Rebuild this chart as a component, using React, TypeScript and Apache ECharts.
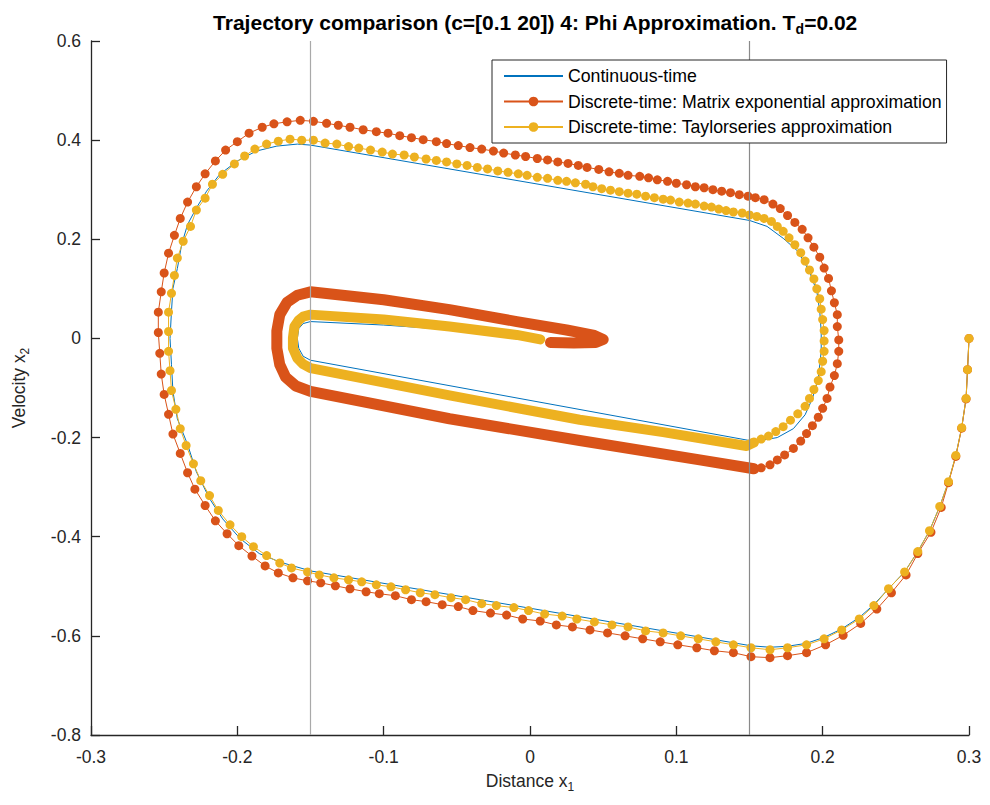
import React, { useEffect, useRef } from 'react';
import * as echarts from 'echarts';

// ---------- data ----------
const switchLines: number[] = [-0.15, 0.15];

const continuousTime: [number, number][] = [
  [0.300, 0.000], [0.299, -0.063], [0.298, -0.121], [0.295, -0.180], [0.291, -0.236], [0.286, -0.289],
  [0.280, -0.339], [0.273, -0.388], [0.265, -0.430], [0.256, -0.471], [0.245, -0.505], [0.235, -0.537],
  [0.225, -0.563], [0.213, -0.586], [0.201, -0.603], [0.189, -0.615], [0.176, -0.621], [0.164, -0.623],
  [0.151, -0.620], [-0.150, -0.469], [-0.171, -0.451], [-0.185, -0.434], [-0.198, -0.404], [-0.210, -0.364],
  [-0.219, -0.323], [-0.228, -0.269], [-0.234, -0.214], [-0.241, -0.162], [-0.244, -0.107], [-0.245, -0.053],
  [-0.246, 0.000], [-0.245, 0.055], [-0.244, 0.101], [-0.241, 0.141], [-0.238, 0.190], [-0.234, 0.230],
  [-0.228, 0.263], [-0.221, 0.297], [-0.212, 0.331], [-0.200, 0.358], [-0.187, 0.378], [-0.173, 0.388],
  [-0.159, 0.392], [-0.150, 0.390], [0.150, 0.238], [0.162, 0.226], [0.173, 0.202], [0.183, 0.176],
  [0.191, 0.135], [0.196, 0.095], [0.198, 0.055], [0.199, 0.014], [0.199, -0.026], [0.197, -0.081],
  [0.193, -0.121], [0.188, -0.154], [0.180, -0.182], [0.169, -0.200], [0.157, -0.206], [0.150, -0.206],
  [-0.150, -0.044], [-0.155, -0.036], [-0.158, -0.020], [-0.159, 0.000], [-0.158, 0.020], [-0.155, 0.030],
  [-0.150, 0.034], [-0.100, 0.027], [-0.050, 0.017], [0.000, 0.004], [0.006, 0.000],
];

// Matrix exponential approximation: outer loop (separate dots)
const matrixOuter: [number, number][] = [
  [0.300, 0.000], [0.299, -0.063], [0.298, -0.122], [0.295, -0.181], [0.291, -0.238], [0.286, -0.291],
  [0.281, -0.341], [0.274, -0.391], [0.265, -0.434], [0.257, -0.477], [0.247, -0.513], [0.237, -0.546],
  [0.226, -0.575], [0.214, -0.599], [0.202, -0.618], [0.189, -0.634], [0.176, -0.640], [0.164, -0.644],
  [0.151, -0.642], [0.139, -0.634], [0.126, -0.630], [0.114, -0.624], [0.101, -0.618], [0.089, -0.612],
  [0.077, -0.606], [0.065, -0.600], [0.053, -0.594], [0.041, -0.588], [0.029, -0.582], [0.018, -0.578],
  [0.007, -0.570], [-0.005, -0.566], [-0.016, -0.558], [-0.027, -0.554], [-0.039, -0.549], [-0.049, -0.541],
  [-0.060, -0.537], [-0.071, -0.531], [-0.081, -0.527], [-0.092, -0.519], [-0.103, -0.515], [-0.112, -0.511],
  [-0.123, -0.505], [-0.133, -0.499], [-0.143, -0.493], [-0.152, -0.489], [-0.162, -0.483], [-0.172, -0.473],
  [-0.181, -0.459], [-0.190, -0.439], [-0.199, -0.418], [-0.207, -0.394], [-0.215, -0.368], [-0.222, -0.337],
  [-0.229, -0.304], [-0.234, -0.271], [-0.239, -0.232], [-0.244, -0.193], [-0.247, -0.153], [-0.250, -0.113],
  [-0.252, -0.072], [-0.253, -0.030], [-0.254, 0.012], [-0.254, 0.053], [-0.252, 0.094], [-0.250, 0.132],
  [-0.247, 0.172], [-0.243, 0.208], [-0.239, 0.242], [-0.234, 0.275], [-0.228, 0.306], [-0.222, 0.332],
  [-0.215, 0.358], [-0.208, 0.380], [-0.200, 0.397], [-0.192, 0.414], [-0.183, 0.426], [-0.175, 0.433],
  [-0.166, 0.437], [-0.157, 0.440], [-0.148, 0.438], [-0.139, 0.434], [-0.131, 0.430], [-0.123, 0.426],
  [-0.114, 0.421], [-0.105, 0.417], [-0.097, 0.414], [-0.089, 0.409], [-0.081, 0.405], [-0.073, 0.401],
  [-0.064, 0.397], [-0.057, 0.393], [-0.049, 0.389], [-0.041, 0.385], [-0.033, 0.382], [-0.025, 0.378],
  [-0.018, 0.374], [-0.010, 0.370], [-0.003, 0.367], [0.005, 0.363], [0.012, 0.360], [0.019, 0.356],
  [0.026, 0.353], [0.033, 0.349], [0.039, 0.345], [0.047, 0.341], [0.054, 0.336], [0.061, 0.333],
  [0.067, 0.329], [0.075, 0.327], [0.081, 0.324], [0.087, 0.320], [0.094, 0.317], [0.100, 0.313],
  [0.107, 0.310], [0.113, 0.306], [0.119, 0.304], [0.125, 0.300], [0.131, 0.297], [0.137, 0.294],
  [0.143, 0.290], [0.149, 0.287], [0.154, 0.284], [0.160, 0.280], [0.166, 0.271], [0.171, 0.262],
  [0.176, 0.248], [0.181, 0.234], [0.186, 0.220], [0.190, 0.203], [0.194, 0.184], [0.198, 0.164],
  [0.201, 0.142], [0.204, 0.121], [0.206, 0.096], [0.208, 0.072], [0.210, 0.048], [0.210, 0.024],
  [0.211, -0.003], [0.211, -0.026], [0.210, -0.051], [0.208, -0.075], [0.205, -0.098], [0.203, -0.121],
  [0.200, -0.141], [0.197, -0.159], [0.193, -0.176], [0.189, -0.192], [0.185, -0.207], [0.180, -0.222],
  [0.174, -0.235], [0.169, -0.245], [0.164, -0.255], [0.158, -0.261], [0.153, -0.263],
];

// Matrix exponential approximation: inner part (dots merge into a band)
const matrixInner: [number, number][] = [
  [0.153, -0.263], [0.116, -0.245], [0.034, -0.206], [-0.055, -0.162], [-0.150, -0.107], [-0.160, -0.096],
  [-0.167, -0.078], [-0.171, -0.053], [-0.173, -0.020], [-0.173, 0.015], [-0.171, 0.048], [-0.166, 0.073],
  [-0.159, 0.087], [-0.150, 0.094], [-0.100, 0.078], [-0.055, 0.058], [-0.009, 0.034], [0.025, 0.017],
  [0.044, 0.006], [0.050, -0.002], [0.045, -0.008], [0.030, -0.009], [0.014, -0.008],
];

// Taylor series approximation: outer loop (separate dots)
const taylorOuter: [number, number][] = [
  [0.300, 0.000], [0.299, -0.063], [0.298, -0.121], [0.295, -0.180], [0.291, -0.236], [0.286, -0.289],
  [0.280, -0.339], [0.273, -0.388], [0.265, -0.430], [0.256, -0.471], [0.245, -0.505], [0.235, -0.539],
  [0.225, -0.566], [0.213, -0.588], [0.201, -0.606], [0.189, -0.618], [0.176, -0.624], [0.164, -0.628],
  [0.151, -0.624], [0.139, -0.618], [0.127, -0.612], [0.115, -0.606], [0.103, -0.600], [0.091, -0.594],
  [0.079, -0.590], [0.067, -0.582], [0.056, -0.578], [0.044, -0.572], [0.032, -0.566], [0.022, -0.560],
  [0.010, -0.556], [-0.001, -0.549], [-0.011, -0.543], [-0.023, -0.539], [-0.033, -0.535], [-0.044, -0.527],
  [-0.054, -0.523], [-0.065, -0.517], [-0.075, -0.513], [-0.085, -0.507], [-0.095, -0.501], [-0.105, -0.497],
  [-0.115, -0.491], [-0.124, -0.487], [-0.134, -0.483], [-0.144, -0.477], [-0.152, -0.471], [-0.163, -0.463],
  [-0.171, -0.453], [-0.180, -0.438], [-0.189, -0.420], [-0.197, -0.400], [-0.205, -0.376], [-0.213, -0.347],
  [-0.219, -0.317], [-0.225, -0.287], [-0.230, -0.253], [-0.235, -0.216], [-0.239, -0.182], [-0.242, -0.143],
  [-0.245, -0.105], [-0.246, -0.065], [-0.247, -0.026], [-0.247, 0.014], [-0.247, 0.053], [-0.245, 0.091],
  [-0.243, 0.127], [-0.241, 0.162], [-0.237, 0.196], [-0.232, 0.226], [-0.228, 0.259], [-0.222, 0.283],
  [-0.217, 0.311], [-0.210, 0.331], [-0.202, 0.352], [-0.195, 0.368], [-0.188, 0.382], [-0.180, 0.392],
  [-0.172, 0.398], [-0.164, 0.402], [-0.156, 0.400], [-0.148, 0.400], [-0.140, 0.394], [-0.132, 0.392],
  [-0.124, 0.387], [-0.117, 0.384], [-0.109, 0.380], [-0.101, 0.376], [-0.094, 0.372], [-0.086, 0.370],
  [-0.079, 0.366], [-0.071, 0.362], [-0.064, 0.359], [-0.057, 0.356], [-0.050, 0.352], [-0.043, 0.349],
  [-0.036, 0.345], [-0.029, 0.342], [-0.022, 0.338], [-0.015, 0.335], [-0.008, 0.332], [-0.002, 0.329],
  [0.005, 0.325], [0.012, 0.323], [0.019, 0.319], [0.025, 0.317], [0.031, 0.314], [0.038, 0.311],
  [0.043, 0.306], [0.049, 0.302], [0.055, 0.299], [0.061, 0.296], [0.067, 0.293], [0.073, 0.291],
  [0.079, 0.287], [0.085, 0.284], [0.091, 0.281], [0.096, 0.279], [0.102, 0.275], [0.108, 0.273],
  [0.113, 0.271], [0.119, 0.267], [0.124, 0.265], [0.129, 0.261], [0.134, 0.258], [0.139, 0.255],
  [0.145, 0.253], [0.150, 0.249], [0.155, 0.246], [0.160, 0.242], [0.165, 0.236], [0.169, 0.226],
  [0.173, 0.216], [0.177, 0.203], [0.181, 0.189], [0.185, 0.173], [0.188, 0.156], [0.191, 0.138],
  [0.194, 0.120], [0.196, 0.100], [0.198, 0.080], [0.199, 0.059], [0.200, 0.038], [0.201, 0.016],
  [0.201, -0.005], [0.201, -0.026], [0.200, -0.046], [0.199, -0.067], [0.197, -0.085], [0.194, -0.103],
  [0.191, -0.121], [0.188, -0.137], [0.183, -0.152], [0.178, -0.165], [0.173, -0.178], [0.168, -0.188],
  [0.163, -0.197], [0.158, -0.203], [0.153, -0.210],
];

// Taylor series approximation: inner part (dots merge into a band)
const taylorInner: [number, number][] = [
  [0.153, -0.210], [0.148, -0.217], [0.091, -0.189], [0.034, -0.164], [-0.055, -0.115], [-0.150, -0.060],
  [-0.155, -0.052], [-0.159, -0.040], [-0.162, -0.020], [-0.162, 0.001], [-0.161, 0.024], [-0.158, 0.037],
  [-0.155, 0.044], [-0.150, 0.048], [-0.100, 0.038], [-0.055, 0.024], [-0.009, 0.007], [0.007, -0.002],
];

const NAME_CT = 'Continuous-time';
const NAME_ME = 'Discrete-time: Matrix exponential approximation';
const NAME_TS = 'Discrete-time: Taylorseries approximation';

const BLUE = '#0072BD';
const ORANGE = '#D95319';
const YELLOW = '#EDB120';
const AXIS = '#262626';
const FONT = '"Liberation Sans", Arial, Helvetica, sans-serif';

export default function App() {
  const ref = useRef<HTMLDivElement>(null);

  useEffect(() => {
    if (!ref.current) return;
    const chart = echarts.init(ref.current, undefined, { renderer: 'svg' });

    const dotSeries = (name: string, data: [number, number][], color: string) => ({
      name,
      type: 'line',
      data,
      symbol: 'circle',
      symbolSize: 9,
      showSymbol: true,
      showAllSymbol: true,
      lineStyle: { color, width: 1 },
      itemStyle: { color },
      emphasis: { disabled: true },
      silent: true,
    });

    const bandSeries = (name: string, data: [number, number][], color: string, width: number) => ({
      name,
      type: 'line',
      data,
      symbol: 'none',
      lineStyle: { color, width, cap: 'round', join: 'round' },
      itemStyle: { color },
      emphasis: { disabled: true },
      silent: true,
    });

    const option: any = {
      animation: false,
      backgroundColor: '#ffffff',
      textStyle: { fontFamily: FONT },
      title: {
        text: 'Trajectory comparison (c=[0.1 20]) 4: Phi Approximation. T{sub|d}=0.02',
        left: 530,
        textAlign: 'center',
        top: 3,
        textStyle: {
          fontFamily: FONT,
          fontSize: 21,
          fontWeight: 'bold',
          color: '#000',
          rich: {
            sub: { fontFamily: FONT, fontSize: 14, fontWeight: 'bold', color: '#000', padding: [14, 0, 0, 0] },
          },
        },
      },
      legend: {
        data: [
          { name: NAME_CT, itemStyle: { opacity: 0 } },
          { name: NAME_ME },
          { name: NAME_TS },
        ],
        orient: 'vertical',
        left: 492,
        top: 60,
        itemWidth: 59,
        itemHeight: 12,
        itemGap: 7.5,
        padding: [7, 5, 7, 11],
        borderColor: AXIS,
        borderWidth: 1,
        backgroundColor: '#ffffff',
        selectedMode: false,
        textStyle: { fontFamily: FONT, fontSize: 17.7, color: '#000', lineHeight: 18 },
        z: 10,
      },
      grid: { left: 91, right: 21, top: 41, bottom: 70, containLabel: false },
      xAxis: {
        type: 'value',
        min: -0.3,
        max: 0.3,
        interval: 0.1,
        name: 'Distance x{sub|1}',
        nameLocation: 'middle',
        nameGap: 33,
        nameTextStyle: {
          fontFamily: FONT, fontSize: 17.5, color: AXIS,
          rich: { sub: { fontFamily: FONT, fontSize: 12, color: AXIS, padding: [13, 0, 0, 0] } },
        },
        axisLine: { show: true, onZero: false, lineStyle: { color: AXIS, width: 1.3 } },
        axisTick: { show: true, inside: true, length: 9, lineStyle: { color: AXIS, width: 1.3 } },
        axisLabel: { fontFamily: FONT, fontSize: 17.5, color: AXIS, margin: 13 },
        splitLine: { show: false },
      },
      yAxis: {
        type: 'value',
        min: -0.8,
        max: 0.6,
        interval: 0.2,
        name: 'Velocity x{sub|2}',
        nameLocation: 'middle',
        nameGap: 60,
        nameTextStyle: {
          fontFamily: FONT, fontSize: 17.5, color: AXIS,
          rich: { sub: { fontFamily: FONT, fontSize: 12, color: AXIS, padding: [13, 0, 0, 0] } },
        },
        axisLine: { show: true, onZero: false, lineStyle: { color: AXIS, width: 1.3 } },
        axisTick: { show: true, inside: true, length: 9, lineStyle: { color: AXIS, width: 1.3 } },
        axisLabel: { fontFamily: FONT, fontSize: 17.5, color: AXIS, margin: 10 },
        splitLine: { show: false },
      },
      series: [
        {
          name: NAME_CT,
          type: 'line',
          data: continuousTime,
          symbol: 'none',
          lineStyle: { color: BLUE, width: 1 },
          itemStyle: { color: BLUE },
          emphasis: { disabled: true },
          silent: true,
        },
        dotSeries(NAME_ME, matrixOuter, ORANGE),
        dotSeries(NAME_TS, taylorOuter, YELLOW),
        bandSeries(NAME_ME, matrixInner, ORANGE, 11),
        {
          ...bandSeries(NAME_TS, taylorInner, YELLOW, 10),
          markLine: {
            silent: true,
            symbol: ['none', 'none'],
            label: { show: false },
            z: 5,
            data: switchLines.map((v, i) => ({
              xAxis: v,
              lineStyle: { color: i === 0 ? '#a9a9a9' : '#8a8a8a', width: 1.2, type: 'solid' },
            })),
          },
        },
      ],
    };

    chart.setOption(option);
    return () => chart.dispose();
  }, []);

  return (
    <div
      ref={ref}
      style={{ position: 'fixed', left: 0, top: 0, width: 990, height: 805, background: '#fff' }}
    />
  );
}
